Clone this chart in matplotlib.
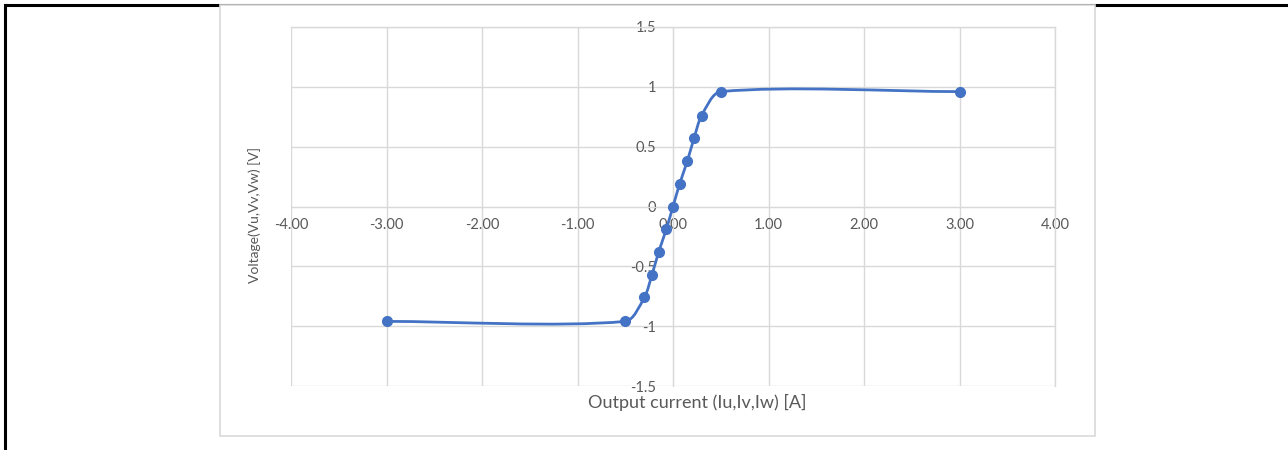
import matplotlib
matplotlib.use("Agg")
import matplotlib.pyplot as plt
from matplotlib.path import Path
from matplotlib.patches import PathPatch, Rectangle
from matplotlib.lines import Line2D
import numpy as np

plt.rcParams['font.family'] = ['Lato', 'DejaVu Sans']
plt.rcParams['axes.unicode_minus'] = False

# measured points: output current [A] vs voltage [V]
current = [-3.0, -0.5, -0.3, -0.22, -0.15, -0.07, 0.0, 0.07, 0.15, 0.22, 0.3, 0.5, 3.0]
voltage = [-0.96, -0.96, -0.76, -0.57, -0.38, -0.19, 0.0, 0.19, 0.38, 0.57, 0.76, 0.96, 0.96]

x_ticks = [-4, -3, -2, -1, 0, 1, 2, 3, 4]
y_ticks = [-1.5, -1, -0.5, 0, 0.5, 1, 1.5]

W, H = 1288, 450
BLUE = '#4472C4'
GRID = '#D9D9D9'
TXT = '#595959'


def smooth_path(xs, ys, sx, sy, k=0.28):
    # smoothed line like a spreadsheet chart: cubic Bezier segments, tangent
    # direction from neighbours, handle length from the segment length (screen units)
    pts = np.column_stack([np.asarray(xs) * sx, np.asarray(ys) * sy])
    n = len(pts)

    def tangent(i):
        a = pts[max(i - 1, 0)]
        b = pts[min(i + 1, n - 1)]
        d = b - a
        return d / np.hypot(*d)

    verts = [pts[0]]
    codes = [Path.MOVETO]
    for i in range(n - 1):
        p1, p2 = pts[i], pts[i + 1]
        L = np.hypot(*(p2 - p1))
        c1 = p1 + tangent(i) * L * k
        c2 = p2 - tangent(i + 1) * L * k
        verts += [c1, c2, p2]
        codes += [Path.CURVE4] * 3
    verts = np.array(verts) / np.array([sx, sy])
    return Path(verts, codes)


fig = plt.figure(figsize=(W / 100, H / 100), dpi=100)

# black page border (top and left)
fig.add_artist(Line2D([5 / W, 1], [1 - 5 / H, 1 - 5 / H], color='black', lw=2.2, zorder=-3))
fig.add_artist(Line2D([5 / W, 5 / W], [0, 1 - 5 / H], color='black', lw=2.2, zorder=-3))

# chart area box
fig.add_artist(Rectangle((220 / W, (H - 436) / H), (1095 - 220) / W, (436 - 5) / H,
                         facecolor='white', edgecolor=GRID, lw=1.2, zorder=-2))

ax = fig.add_axes([291 / W, (H - 386) / H, (1055 - 291) / W, (386 - 27) / H])
ax.patch.set_alpha(0)
ax.set_xlim(-4, 4)
ax.set_ylim(-1.5, 1.5)
ax.set_xticks(x_ticks)
ax.set_yticks(y_ticks)
ax.set_xticklabels([f"{v:.2f}" for v in x_ticks])
ax.set_yticklabels([f"{v:g}" for v in y_ticks])
ax.grid(True, color=GRID, lw=1.0)
ax.set_axisbelow(True)
for s in ['top', 'right']:
    ax.spines[s].set_color(GRID)
    ax.spines[s].set_linewidth(1.0)
ax.spines['left'].set_position(('data', 0))
ax.spines['bottom'].set_position(('data', 0))
ax.spines['left'].set_color(GRID)
ax.spines['bottom'].set_color(GRID)
ax.tick_params(length=0, labelsize=10.5, colors=TXT)
ax.tick_params(axis='x', pad=8)
ax.tick_params(axis='y', pad=12)

# pixels per data unit, so the smoothing behaves like it does on screen
sx = (1055 - 291) / 8.0
sy = (386 - 27) / 3.0
ax.add_patch(PathPatch(smooth_path(current, voltage, sx, sy), facecolor='none',
                       edgecolor=BLUE, lw=2.0, zorder=3))
ax.plot(current, voltage, 'o', color=BLUE, ms=7, zorder=4)

fig.text(697 / W, 1 - 402 / H, 'Output current (Iu,Iv,Iw) [A]', ha='center', va='center',
         fontsize=13, color=TXT)
fig.text(255 / W, 1 - 215 / H, 'Voltage(Vu,Vv,Vw) [V]', ha='center', va='center',
         rotation=90, fontsize=10, color=TXT)

fig.savefig('out.png', dpi=100)
